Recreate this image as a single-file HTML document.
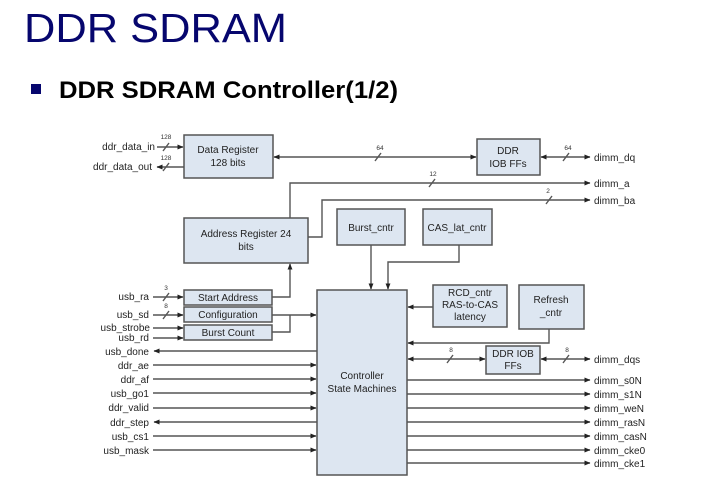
<!DOCTYPE html>
<html><head><style>
html,body{margin:0;padding:0;background:#fff;}
svg{display:block;font-family:"Liberation Sans",Arial,sans-serif;}
</style></head><body>
<svg width="718" height="498" viewBox="0 0 718 498" xmlns="http://www.w3.org/2000/svg">
<defs>
<marker id="a" viewBox="0 0 10 10" refX="9" refY="5" markerWidth="4.5" markerHeight="4.5" orient="auto-start-reverse"><path d="M0,1 L10,5 L0,9 z" fill="#222"/></marker>
</defs>
<text x="24" y="42" font-size="41" fill="#06066e" textLength="263" lengthAdjust="spacingAndGlyphs">DDR SDRAM</text>
<rect x="31" y="84" width="10" height="10" fill="#06066e"/>
<text x="59" y="98" font-size="24" font-weight="bold" fill="#000" textLength="339" lengthAdjust="spacingAndGlyphs">DDR SDRAM Controller(1/2)</text>

<g fill="#dde6f1" stroke="#555" stroke-width="1.5">
<rect x="184" y="135" width="89" height="43"/>
<rect x="477" y="139" width="63" height="36"/>
<rect x="184" y="218" width="124" height="45"/>
<rect x="337" y="209" width="68" height="36"/>
<rect x="423" y="209" width="69" height="36"/>
<rect x="184" y="290" width="88" height="15"/>
<rect x="184" y="307" width="88" height="15"/>
<rect x="184" y="325" width="88" height="15"/>
<rect x="317" y="290" width="90" height="185"/>
<rect x="433" y="285" width="74" height="42"/>
<rect x="519" y="285" width="65" height="44"/>
<rect x="486" y="346" width="54" height="28"/>
</g>

<g font-size="10" fill="#222" text-anchor="middle">
<text x="228" y="153">Data Register</text><text x="228" y="166">128 bits</text>
<text x="508" y="154">DDR</text><text x="508" y="167">IOB FFs</text>
<text x="246" y="237">Address Register 24</text><text x="246" y="250">bits</text>
<text x="371" y="231">Burst_cntr</text>
<text x="457" y="231">CAS_lat_cntr</text>
<text x="228" y="301">Start Address</text>
<text x="228" y="318">Configuration</text>
<text x="228" y="336">Burst Count</text>
<text x="362" y="379">Controller</text><text x="362" y="392">State Machines</text>
<text x="470" y="296">RCD_cntr</text><text x="470" y="308">RAS-to-CAS</text><text x="470" y="320">latency</text>
<text x="551" y="303">Refresh</text><text x="551" y="316">_cntr</text>
<text x="513" y="357">DDR IOB</text><text x="513" y="369">FFs</text>
</g>

<g stroke="#555" stroke-width="1.4" fill="none">
<line x1="157" y1="147" x2="183" y2="147" marker-end="url(#a)"/>
<line x1="184" y1="167" x2="157" y2="167" marker-end="url(#a)"/>
<line x1="274" y1="157" x2="476" y2="157" marker-start="url(#a)" marker-end="url(#a)"/>
<line x1="541" y1="157" x2="590" y2="157" marker-start="url(#a)" marker-end="url(#a)"/>
<polyline points="290,218 290,183 590,183" marker-end="url(#a)"/>
<polyline points="308,237 322,237 322,200 590,200" marker-end="url(#a)"/>
<line x1="371" y1="245" x2="371" y2="289" marker-end="url(#a)"/>
<polyline points="459,245 459,262 388,262 388,289" marker-end="url(#a)"/>
<polyline points="272,297 290,297 290,264" marker-end="url(#a)"/>
<line x1="272" y1="315" x2="316" y2="315" marker-end="url(#a)"/>
<polyline points="272,332 290,332 290,315"/>
<line x1="433" y1="307" x2="408" y2="307" marker-end="url(#a)"/>
<polyline points="549,329 549,343 408,343" marker-end="url(#a)"/>
<line x1="408" y1="359" x2="485" y2="359" marker-start="url(#a)" marker-end="url(#a)"/>
<line x1="541" y1="359" x2="590" y2="359" marker-start="url(#a)" marker-end="url(#a)"/>
<line x1="407" y1="380" x2="590" y2="380" marker-end="url(#a)"/>
<line x1="407" y1="394" x2="590" y2="394" marker-end="url(#a)"/>
<line x1="407" y1="408" x2="590" y2="408" marker-end="url(#a)"/>
<line x1="407" y1="422" x2="590" y2="422" marker-end="url(#a)"/>
<line x1="407" y1="436" x2="590" y2="436" marker-end="url(#a)"/>
<line x1="407" y1="450" x2="590" y2="450" marker-end="url(#a)"/>
<line x1="407" y1="463" x2="590" y2="463" marker-end="url(#a)"/>
<line x1="153" y1="297" x2="183" y2="297" marker-end="url(#a)"/>
<line x1="153" y1="315" x2="183" y2="315" marker-end="url(#a)"/>
<line x1="153" y1="328" x2="183" y2="328" marker-end="url(#a)"/>
<line x1="153" y1="338" x2="183" y2="338" marker-end="url(#a)"/>
<line x1="317" y1="351" x2="154" y2="351" marker-end="url(#a)"/>
<line x1="153" y1="365" x2="316" y2="365" marker-end="url(#a)"/>
<line x1="153" y1="379" x2="316" y2="379" marker-end="url(#a)"/>
<line x1="153" y1="393" x2="316" y2="393" marker-end="url(#a)"/>
<line x1="153" y1="408" x2="316" y2="408" marker-end="url(#a)"/>
<line x1="317" y1="422" x2="154" y2="422" marker-end="url(#a)"/>
<line x1="153" y1="436" x2="316" y2="436" marker-end="url(#a)"/>
<line x1="153" y1="450" x2="316" y2="450" marker-end="url(#a)"/>
<line x1="163" y1="151" x2="169" y2="143"/>
<line x1="163" y1="171" x2="169" y2="163"/>
<line x1="375" y1="161" x2="381" y2="153"/>
<line x1="563" y1="161" x2="569" y2="153"/>
<line x1="429" y1="187" x2="435" y2="179"/>
<line x1="546" y1="204" x2="552" y2="196"/>
<line x1="163" y1="301" x2="169" y2="293"/>
<line x1="163" y1="319" x2="169" y2="311"/>
<line x1="447" y1="363" x2="453" y2="355"/>
<line x1="563" y1="363" x2="569" y2="355"/>
</g>

<g font-size="6.5" fill="#333" text-anchor="middle">
<text x="166" y="139">128</text><text x="166" y="160">128</text>
<text x="380" y="150">64</text><text x="568" y="150">64</text>
<text x="433" y="176">12</text><text x="548" y="193">2</text>
<text x="166" y="290">3</text><text x="166" y="308">8</text>
<text x="451" y="352">8</text><text x="567" y="352">8</text>
</g>

<g font-size="10" fill="#222" text-anchor="end">
<text x="155" y="150">ddr_data_in</text>
<text x="152" y="170">ddr_data_out</text>
<text x="149" y="300">usb_ra</text>
<text x="149" y="318">usb_sd</text>
<text x="150" y="331">usb_strobe</text>
<text x="149" y="341">usb_rd</text>
<text x="149" y="355">usb_done</text>
<text x="149" y="369">ddr_ae</text>
<text x="149" y="383">ddr_af</text>
<text x="149" y="397">usb_go1</text>
<text x="149" y="411">ddr_valid</text>
<text x="149" y="426">ddr_step</text>
<text x="149" y="440">usb_cs1</text>
<text x="149" y="454">usb_mask</text>
</g>
<g font-size="10" fill="#222">
<text x="594" y="161">dimm_dq</text>
<text x="594" y="187">dimm_a</text>
<text x="594" y="204">dimm_ba</text>
<text x="594" y="363">dimm_dqs</text>
<text x="594" y="384">dimm_s0N</text>
<text x="594" y="398">dimm_s1N</text>
<text x="594" y="412">dimm_weN</text>
<text x="594" y="426">dimm_rasN</text>
<text x="594" y="440">dimm_casN</text>
<text x="594" y="454">dimm_cke0</text>
<text x="594" y="467">dimm_cke1</text>
</g>
</svg>
</body></html>
